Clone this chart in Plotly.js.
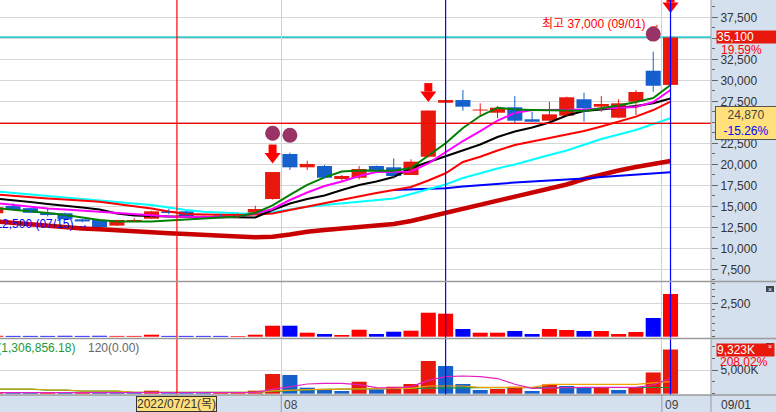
<!DOCTYPE html>
<html>
<head>
<meta charset="utf-8">
<script src="https://cdn.plot.ly/plotly-3.0.1.min.js"></script>
<style>
  html, body { margin: 0; padding: 0; background: #d5e0ee; }
  #chart { width: 776px; height: 412px; }
</style>
</head>
<body>
<div id="chart"></div>
<script>
// daily bars, 2022/07/07 .. 2022/09/01
let dates = ["07/07","07/08","07/11","07/12","07/13","07/14","07/15","07/18","07/19","07/20",
  "07/21","07/22","07/25","07/26","07/27","07/28","07/29","08/01","08/02","08/03",
  "08/04","08/05","08/08","08/09","08/10","08/11","08/12","08/16","08/17","08/18",
  "08/19","08/22","08/23","08/24","08/25","08/26","08/29","08/30","08/31","09/01"];

let openPrice = [14170,15030,14780,14240,14170,13450,13370,12700,13250,13520,14400,14400,13700,14000,13690,14170,15870,21230,19640,19800,
  18250,18400,19800,19640,18730,20900,27330,27650,26400,26140,26790,25360,25190,25790,27740,26860,25550,27450,31140,29450];
let highPrice = [14950,15350,14800,14800,14250,13500,13450,13400,13600,14450,14700,14450,13900,14100,14200,15070,19080,21380,20430,19920,
  18730,19800,19850,20710,20600,26400,27700,28850,27260,26940,28130,26260,27450,28050,28520,28130,27740,28850,33400,37000];
let lowPrice = [14150,14450,14200,13800,13400,13100,12500,12650,13200,13500,14050,13800,13500,13800,13650,14050,15800,19320,19320,18330,
  18050,18210,19200,18330,18730,20800,27300,26380,25870,25480,24880,25070,25190,25700,25070,26260,25480,25870,28640,29350];
let closePrice = [14880,14560,14230,13960,13450,13200,12520,13370,13370,14400,14200,13810,13650,13900,14170,14680,19080,19640,20040,18400,
  18610,19440,19240,18610,20310,26400,27650,26860,26450,26740,25190,25070,25950,27980,26670,27180,27260,28610,29350,35100];

// price moving averages as drawn
let maGreen = [14800,14620,14380,14200,13960,13670,13370,13190,13170,13190,13310,13430,13490,13610,13790,14200,15100,16350,17540,18450,
  19140,19260,19260,19240,19560,20990,22500,24320,25750,26740,26520,26460,26460,26410,26350,26670,27000,27420,27890,29440];
let maMagenta = [15390,15150,14920,14740,14620,14500,14380,14260,14080,13930,13790,13730,13690,13690,13790,14140,14680,15750,16640,17420,
  17950,18610,19080,19120,19140,20100,21460,22770,23960,25210,26110,26460,26460,26460,26520,26640,26700,26820,27420,28850];
let maBlack = [15930,15750,15510,15270,15100,14860,14620,14140,13900,13810,13790,13760,13730,13700,13670,13670,14560,15330,15870,16290,
  16940,17540,17950,18490,19560,20270,20900,21700,22360,23250,23910,24380,24980,25810,26350,26520,26700,26940,27260,27830];
let maRed = [16400,16230,16070,15930,15810,15670,15550,15270,15040,14740,14380,14080,14020,13960,13960,14020,14140,14560,14980,15390,
  15810,16170,16580,16940,17300,18070,18930,20270,20900,21640,22300,22710,23130,23550,23960,24500,25100,25670,26460,27450];
let maCyan = [16790,16580,16400,16230,16050,15870,15750,15510,15330,15150,14860,14560,14360,14240,14170,14140,14290,14620,14950,15150,
  15360,15550,15750,15930,16460,17000,17600,18370,18960,19500,19980,20570,21110,21640,22360,23010,23550,24080,24800,25480];
let maBlue = [null,null,null,null,null,null,null,null,null,null,null,null,null,null,null,null,null,null,null,null,
  null,null,null,16940,17000,17060,17140,17360,17540,17690,17830,17950,18050,18190,18310,18490,18610,18790,18930,19050];
let maDarkRed = [13190,13010,12830,12660,12500,12360,12260,12120,12000,11880,11790,11700,11640,11520,11400,11310,11380,11640,11980,12180,
  12380,12540,12660,12890,13250,13730,14200,14740,15270,15710,16230,16700,17120,17600,18250,18790,19260,19680,20040,20390];

// trading value (100M won) and volume (K shares)
let tradeValue = [70,60,60,60,70,60,70,60,60,150,60,60,60,60,50,150,823,823,300,202,
  127,524,202,374,449,1796,1722,576,300,300,427,202,576,501,427,427,202,352,1400,3196];
let volumeK = [260,230,210,250,220,260,240,220,200,630,240,220,200,230,300,640,4156,3945,1266,992,
  570,2532,907,1477,2046,6899,5844,2046,781,992,1477,570,1962,1625,1336,1380,781,1336,4482,9323];
let volMa5 = [210,210,210,210,210,210,210,210,210,210,210,210,210,210,230,300,928,1477,2047,2194,
  2194,1900,1300,1200,1500,2800,3587,3735,3587,3200,2000,1139,1250,1350,1350,1350,1350,1350,1836,3249];
let volMa20 = [992,992,992,781,781,570,570,570,295,295,295,295,295,295,295,295,600,800,850,900,
  900,1000,1050,1139,1139,1625,1625,1625,1350,1350,1350,1350,1983,1983,1983,1983,1983,1983,2300,2532];
let volMa60 = [960,960,960,770,770,560,560,560,290,290,290,290,290,290,290,290,500,700,800,900,
  950,1000,1050,1150,1200,1250,1300,1300,1280,1270,1266,1266,1266,1266,1266,1270,1280,1290,1300,1307];

// signals
let dotDays = [16, 17, 38];
let dotPrice = [23690, 23450, 35500];
let arrowDays = [16, 25, 39];

// price axis labels
let priceTicks = [7500,10000,12500,15000,17500,20000,22500,25000,27500,30000,32500,35000,37500];

// crosshair (mouse position) and labels
let crossX = 10.47;
let crossPrice = 24870;
let volRatioText = "208.02%";
let volLegend60 = "60(1,306,856.18)";
let volLegend120 = "120(0.00)";

const FONT = "Liberation Sans, Noto Sans CJK KR, sans-serif";
const RED = "#e8190c";
const BLUE = "#1560cc";
const PLOT_W = 711;
const PLOT_H = 395;
const MAIN_BOTTOM = 281;
const MID_TOP = 282, MID_BOTTOM = 338;
const LOW_TOP = 339;
const BODY_W = 0.87;

let mainRange = [6107, 39560];
let midRange = [-97, 4094];
let lowRange = [-274, 11540];
let xRange = [0.243, 41.34];

function paperY(px) {
  return 1 - px / PLOT_H;
}

function paperX(px) {
  return px / PLOT_W;
}

function fmt(n) {
  return Math.round(n).toLocaleString("en-US");
}

let idx = dates.map((d, i) => i);

let monthSplits = [];
for (let i = 1; i < dates.length; i++) {
  if (dates[i].slice(0, 2) !== dates[i - 1].slice(0, 2)) {
    monthSplits.push(i - 0.5);
  }
}

let last = dates.length - 1;
let prevClose = closePrice[last - 1];
let hiDay = highPrice.indexOf(Math.max(...highPrice));
let loDay = lowPrice.indexOf(Math.min(...lowPrice));

// price units per screen pixel in the main panel
let ppp = (mainRange[1] - mainRange[0]) / MAIN_BOTTOM;

let isUp = idx.map((i) => closePrice[i] >= openPrice[i]);

// tick labels hidden behind the value boxes on the axis
let priceTickText = priceTicks.map((t) =>
  Math.abs(t - closePrice[last]) < 1200 || Math.abs(t - crossPrice) < 1200 ? "" : fmt(t)
);

function maLine(values, color, width) {
  return {
    type: "scatter", mode: "lines", x: idx, y: values,
    line: { color: color, width: width }, hoverinfo: "skip",
  };
}

function volLine(values, color) {
  return {
    type: "scatter", mode: "lines", x: idx, y: values, yaxis: "y3",
    line: { color: color, width: 1.2 }, hoverinfo: "skip",
  };
}

function wicks(up, color) {
  let xs = [];
  let ys = [];
  idx.forEach((i) => {
    if (isUp[i] !== up) return;
    xs.push(i, i, null);
    ys.push(lowPrice[i], highPrice[i], null);
  });
  return {
    type: "scatter", mode: "lines", x: xs, y: ys,
    line: { color: color, width: 1 }, hoverinfo: "skip",
  };
}

let data = [
  maLine(maDarkRed, "#c80000", 4.5),
  maLine(maBlue, "#0000ff", 2),
  maLine(maCyan, "#00ffff", 2),
  maLine(maRed, "#ff0000", 2),
  maLine(maBlack, "#000000", 2),
  maLine(maMagenta, "#ff00ff", 2),
  maLine(maGreen, "#008000", 2),
  wicks(true, RED),
  wicks(false, BLUE),
  {
    type: "bar", x: idx, width: BODY_W,
    base: idx.map((i) => Math.min(openPrice[i], closePrice[i])),
    y: idx.map((i) => Math.max(Math.abs(closePrice[i] - openPrice[i]), ppp)),
    marker: { color: idx.map((i) => (isUp[i] ? RED : BLUE)), line: { width: 0 } },
    hoverinfo: "skip",
  },
  {
    type: "scatter", mode: "markers",
    x: dotDays, y: dotPrice,
    marker: { symbol: "circle", size: 15, color: "#993366" }, hoverinfo: "skip",
  },
  {
    type: "scatter", mode: "markers",
    x: arrowDays, y: arrowDays.map((d) => highPrice[d] + 23.25 * ppp),
    marker: { symbol: "line-ns", size: 6, line: { color: "#ff0000", width: 8 } },
    hoverinfo: "skip",
  },
  {
    type: "scatter", mode: "markers",
    x: arrowDays, y: arrowDays.map((d) => highPrice[d] + 15.5 * ppp),
    marker: { symbol: "triangle-down", size: 14, color: "#ff0000", line: { width: 0 } },
    hoverinfo: "skip",
  },
  {
    type: "bar", x: idx, y: tradeValue, yaxis: "y2", width: BODY_W,
    marker: { color: idx.map((i) => (isUp[i] ? "#ff0000" : "#0000ff")), line: { width: 0 } },
    hoverinfo: "skip",
  },
  {
    type: "bar", x: idx, y: volumeK, yaxis: "y3", width: BODY_W,
    marker: {
      color: idx.map((i) => (i === 0 || volumeK[i] >= volumeK[i - 1] ? RED : BLUE)),
      line: { width: 0 },
    },
    hoverinfo: "skip",
  },
  volLine(volMa60, "#1a9a3a"),
  volLine(volMa20, "#f0a000"),
  volLine(volMa5, "#e020c0"),
];

let yBase = {
  side: "right", anchor: "x", fixedrange: true, zeroline: false,
  ticks: "outside", ticklen: 6, tickcolor: "#666", tickwidth: 1,
  gridcolor: "#d6d6d6", showline: false,
  tickfont: { family: FONT, size: 12, color: "#333" },
};

let shapes = [];

function hLine(py, color, width) {
  shapes.push({
    type: "line", xref: "paper", yref: "paper",
    x0: 0, x1: 776 / PLOT_W, y0: paperY(py), y1: paperY(py),
    line: { color: color, width: width }, layer: "above",
  });
}

// current price line
shapes.push({
  type: "line", xref: "paper", yref: "y", x0: 0, x1: 1,
  y0: closePrice[last], y1: closePrice[last],
  line: { color: "#33cccc", width: 2.5 }, layer: "below",
});

// crosshair
shapes.push({
  type: "line", xref: "paper", yref: "y", x0: 0, x1: 1,
  y0: crossPrice, y1: crossPrice, line: { color: "#ff0000", width: 1.2 }, layer: "above",
});
shapes.push({
  type: "line", xref: "x", yref: "paper", x0: crossX, x1: crossX,
  y0: 0, y1: 1, line: { color: "#ff0000", width: 1.2 }, layer: "above",
});

// selected days
[26, last].forEach((d) => {
  shapes.push({
    type: "line", xref: "x", yref: "paper", x0: d, x1: d,
    y0: 0, y1: 1, line: { color: "#0000ff", width: 1.2 }, layer: "above",
  });
});

// panel separators and axis frame
hLine(281.5, "#9a9a9a", 1.5);
hLine(338.5, "#9a9a9a", 1.5);
hLine(395, "#9a9a9a", 1.5);
shapes.push({
  type: "line", xref: "paper", yref: "paper", x0: 1, x1: 1,
  y0: paperY(412), y1: 1, line: { color: "#9a9a9a", width: 1 }, layer: "above",
});
monthSplits.forEach((m) => {
  shapes.push({
    type: "line", xref: "x", yref: "paper", x0: m, x1: m,
    y0: paperY(412), y1: 0, line: { color: "#999", width: 1 }, layer: "above",
  });
});

// close buttons of the lower panels
let closeButtons = [MID_TOP + 4, LOW_TOP + 4];
closeButtons.forEach((py) => {
  shapes.push({
    type: "rect", xref: "paper", yref: "paper",
    x0: paperX(766), x1: paperX(774), y0: paperY(py + 6), y1: paperY(py),
    fillcolor: "#454545", line: { width: 0 }, layer: "above",
  });
});

let annotations = [
  {
    xref: "x", yref: "y", x: hiDay, y: highPrice[hiDay], xanchor: "right", yanchor: "middle",
    xshift: -8, yshift: -2.5, showarrow: false,
    text: `최고 ${fmt(highPrice[hiDay])} (${dates[hiDay]}) →`,
    font: { family: FONT, size: 12, color: "#ff0000" },
  },
  {
    xref: "x", yref: "y", x: loDay, y: lowPrice[loDay], xanchor: "right", yanchor: "middle",
    xshift: -9, yshift: 3.6, showarrow: false,
    text: `최저 ${fmt(lowPrice[loDay])} (${dates[loDay]}) →`,
    font: { family: FONT, size: 12, color: "#0000ff" },
  },
  {
    xref: "paper", yref: "y", x: 1, y: closePrice[last], xanchor: "left", yanchor: "middle",
    xshift: 5, showarrow: false, width: 60, height: 12, align: "left", borderpad: 0,
    bgcolor: RED, text: fmt(closePrice[last]),
    font: { family: FONT, size: 12, color: "#ffffff" },
  },
  {
    xref: "paper", yref: "y", x: 1, y: closePrice[last], xanchor: "left", yanchor: "middle",
    xshift: 8, yshift: -12.5, showarrow: false,
    text: ((closePrice[last] / prevClose - 1) * 100).toFixed(2) + "%",
    font: { family: FONT, size: 12, color: "#ff0000" },
  },
  {
    xref: "paper", yref: "y", x: 1, y: crossPrice, xanchor: "left", yanchor: "middle",
    xshift: 4, showarrow: false, width: 58, align: "center", borderpad: 1,
    bgcolor: "#ffe07a", bordercolor: "#555", borderwidth: 1,
    text: `${fmt(crossPrice)}<br><span style="color:#0000ff">${((crossPrice / prevClose - 1) * 100).toFixed(2)}%</span>`,
    font: { family: FONT, size: 12, color: "#444" },
  },
  {
    xref: "paper", yref: "y3", x: 1, y: volumeK[last], xanchor: "left", yanchor: "middle",
    xshift: 5, showarrow: false, width: 57, height: 12, align: "left", borderpad: 0,
    bgcolor: RED, text: fmt(volumeK[last]) + "K",
    font: { family: FONT, size: 12, color: "#ffffff" },
  },
  {
    xref: "paper", yref: "y3", x: 1, y: volumeK[last], xanchor: "left", yanchor: "middle",
    xshift: 7, yshift: -12.5, showarrow: false, text: volRatioText,
    font: { family: FONT, size: 12, color: "#ff0000" },
  },
  {
    xref: "paper", yref: "paper", x: 0, y: paperY(347.7), xanchor: "right", yanchor: "middle",
    xshift: 77, showarrow: false, text: volLegend60,
    font: { family: FONT, size: 12, color: "#1a9a3a" },
  },
  {
    xref: "paper", yref: "paper", x: 0, y: paperY(347.7), xanchor: "left", yanchor: "middle",
    xshift: 86, showarrow: false, text: volLegend120,
    font: { family: FONT, size: 12, color: "#666" },
  },
  {
    xref: "x", yref: "paper", x: crossX, y: 0, xanchor: "center", yanchor: "top",
    yshift: -1, showarrow: false, text: `2022/${dates[10]}(목)`,
    bgcolor: "#ffe07a", bordercolor: "#333", borderwidth: 1, borderpad: 0,
    font: { family: FONT, size: 12, color: "#333" },
  },
  {
    xref: "paper", yref: "paper", x: 1, y: 0, xanchor: "left", yanchor: "top",
    xshift: 8, yshift: -1, showarrow: false, text: dates[last],
    font: { family: FONT, size: 12, color: "#333" },
  },
];

monthSplits.forEach((m) => {
  annotations.push({
    xref: "x", yref: "paper", x: m, y: 0, xanchor: "left", yanchor: "top",
    xshift: 1, yshift: -1, showarrow: false, text: dates[Math.ceil(m)].slice(0, 2),
    font: { family: FONT, size: 12, color: "#444" },
  });
});

closeButtons.forEach((py) => {
  annotations.push({
    xref: "paper", yref: "paper", x: paperX(770), y: paperY(py + 3),
    xanchor: "center", yanchor: "middle", showarrow: false, text: "×",
    font: { family: FONT, size: 7, color: "#ffffff" },
  });
});

let layout = {
  width: 776, height: 412,
  margin: { l: 0, r: 776 - PLOT_W, t: 0, b: 412 - PLOT_H },
  paper_bgcolor: "#d5e0ee", plot_bgcolor: "#ffffff",
  showlegend: false, barmode: "overlay",
  font: { family: FONT, size: 12, color: "#333" },
  xaxis: {
    range: xRange, anchor: "y3", fixedrange: true, zeroline: false,
    tickmode: "array", tickvals: monthSplits, showticklabels: false, ticks: "",
    showgrid: true, gridcolor: "#d0d0d0",
  },
  yaxis: Object.assign({}, yBase, {
    domain: [paperY(MAIN_BOTTOM), 1], range: mainRange,
    tickmode: "array", tickvals: priceTicks, ticktext: priceTickText,
    minor: { tickmode: "linear", tick0: 0, dtick: 1250, ticklen: 3, tickcolor: "#666", showgrid: false },
  }),
  yaxis2: Object.assign({}, yBase, {
    domain: [paperY(MID_BOTTOM), paperY(MID_TOP)], range: midRange,
    tickmode: "array", tickvals: [2500], ticktext: ["2,500"],
    minor: { tickmode: "linear", tick0: 0, dtick: 500, ticklen: 3, tickcolor: "#666", showgrid: false },
  }),
  yaxis3: Object.assign({}, yBase, {
    domain: [0, paperY(LOW_TOP)], range: lowRange,
    tickmode: "array", tickvals: [5000], ticktext: ["5,000K"],
    minor: { tickmode: "linear", tick0: 0, dtick: 2500, ticklen: 3, tickcolor: "#666", showgrid: false },
  }),
  shapes: shapes,
  annotations: annotations,
};

Plotly.newPlot("chart", data, layout, { displayModeBar: false, staticPlot: true });
</script>
</body>
</html>
